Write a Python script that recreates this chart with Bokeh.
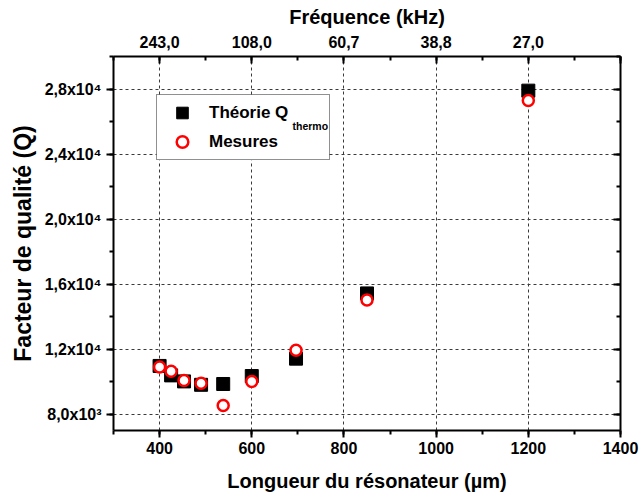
from bokeh.plotting import figure
from bokeh.models import (Range1d, LinearAxis, SingleIntervalTicker, Legend,
                          LegendItem, Label, ColumnDataSource, BoxAnnotation)
from bokeh.embed import file_html
from bokeh.resources import INLINE

# ---- data ----
length_um = [400, 425, 453, 490, 538, 600, 696, 850, 1200]
q_theorie = [10970, 10390, 10020, 9810, 9860, 10350, 11420, 15430, 27900]
q_mesures = [10910, 10640, 10080, 9900, 8540, 10020, 11940, 15020, 27290]

freq_tick_pos = [400, 600, 800, 1000, 1200, 1400]
freq_tick_labels = ["243,0", "108,0", "60,7", "38,8", "27,0", ""]
q_tick_pos = [8000, 12000, 16000, 20000, 24000, 28000]
q_tick_labels = ["8,0x10\u00b3", "1,2x10\u2074", "1,6x10\u2074", "2,0x10\u2074",
                 "2,4x10\u2074", "2,8x10\u2074"]

FONT = "Liberation Sans"
INK = "#000000"

src = ColumnDataSource(dict(L=length_um, qt=q_theorie, qm=q_mesures))

p = figure(frame_width=507, frame_height=374,
           x_range=Range1d(300, 1400), y_range=Range1d(7000, 30000),
           output_backend="svg", toolbar_location=None,
           min_border_left=113, min_border_top=56, min_border_right=20,
           min_border_bottom=8)
p.outline_line_color = None
p.background_fill_color = "white"
p.border_fill_color = "white"

xt = SingleIntervalTicker(interval=200, num_minor_ticks=2)
yt = SingleIntervalTicker(interval=4000, num_minor_ticks=2)


def style_axis(ax, inward):
    ax.axis_line_width = 2
    ax.axis_line_color = INK
    ax.major_tick_line_width = 2
    ax.minor_tick_line_width = 2
    ax.major_tick_line_color = INK
    ax.minor_tick_line_color = INK
    if inward:
        ax.major_tick_in, ax.major_tick_out = 7, 0
        ax.minor_tick_in, ax.minor_tick_out = 4, 0
    else:
        ax.major_tick_in, ax.major_tick_out = 0, 7
        ax.minor_tick_in, ax.minor_tick_out = 0, 4
    ax.major_label_text_font = FONT
    ax.major_label_text_font_style = "bold"
    ax.major_label_text_font_size = "16px"
    ax.major_label_text_color = INK
    ax.axis_label_text_font = FONT
    ax.axis_label_text_font_style = "bold"
    ax.axis_label_text_font_size = "20px"
    ax.axis_label_text_color = INK


# bottom axis
xa = p.xaxis[0]
xa.ticker = xt
xa.axis_label = "Longueur du résonateur (µm)"
style_axis(xa, inward=False)
xa.major_label_standoff = 4
xa.axis_label_standoff = 13

# left axis
ya = p.yaxis[0]
ya.ticker = yt
ya.axis_label = "Facteur de qualité (Q)"
style_axis(ya, inward=False)
ya.major_label_overrides = {v: s for v, s in zip(q_tick_pos, q_tick_labels)}
ya.major_label_standoff = 5
ya.axis_label_standoff = 6
ya.axis_label_text_font_size = "23px"

# top axis (frequency)
top = LinearAxis(ticker=SingleIntervalTicker(interval=200, num_minor_ticks=2),
                 axis_label="Fréquence (kHz)")
style_axis(top, inward=True)
top.major_label_overrides = {v: s for v, s in zip(freq_tick_pos, freq_tick_labels)}
top.major_label_standoff = 9
top.axis_label_standoff = 5
p.add_layout(top, "above")

# right axis (ticks only)
right = LinearAxis(ticker=SingleIntervalTicker(interval=4000, num_minor_ticks=2))
style_axis(right, inward=True)
right.major_label_overrides = {v: "" for v in q_tick_pos}
right.major_label_text_font_size = "0px"
p.add_layout(right, "right")

# grid
p.xgrid.ticker = xt
p.ygrid.ticker = yt
for g in (p.xgrid[0], p.ygrid[0]):
    g.grid_line_color = "#3a3a3a"
    g.grid_line_dash = "3 3"
    g.grid_line_width = 1

# data
r_t = p.scatter("L", "qt", source=src, marker="square", size=13,
                fill_color="black", line_color="black")
r_m = p.scatter("L", "qm", source=src, marker="circle", size=11,
                fill_color="white", line_color="#ff0000", line_width=2.5)

# white backing for the legend (so the legend itself can stay transparent)
LEG_X, LEG_Y, LEG_W, LEG_H = 43, 270, 172, 64
backing = BoxAnnotation(left=LEG_X, right=LEG_X + LEG_W, bottom=LEG_Y, top=LEG_Y + LEG_H,
                        left_units="screen", right_units="screen",
                        bottom_units="screen", top_units="screen",
                        fill_color="white", fill_alpha=1, line_color=None)
p.add_layout(backing)

sub = Label(x=179, y=305, x_units="screen", y_units="screen", text="thermo",
            text_font=FONT, text_font_style="bold", text_font_size="10.5px",
            text_color=INK, text_baseline="alphabetic", text_align="left")
p.add_layout(sub)

legend = Legend(items=[LegendItem(label="Théorie Q", renderers=[r_t]),
                       LegendItem(label="Mesures", renderers=[r_m])],
                location=(LEG_X, LEG_Y), orientation="vertical")
legend.glyph_width = 44
legend.glyph_height = 29
legend.label_height = 29
legend.spacing = 0
legend.padding = 3
legend.margin = 0
legend.label_standoff = 5
legend.label_width = 117
legend.label_text_font = FONT
legend.label_text_font_style = "bold"
legend.label_text_font_size = "17px"
legend.label_text_color = INK
legend.border_line_color = "#222222"
legend.border_line_width = 1
legend.background_fill_alpha = 0
p.add_layout(legend, "center")

open("out.html", "w").write(file_html(p, INLINE))
